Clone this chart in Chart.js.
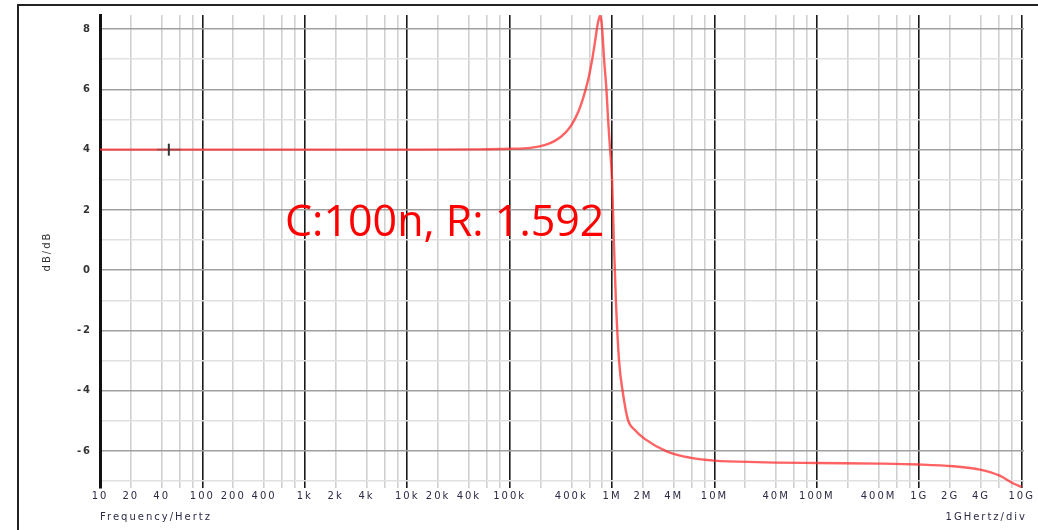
<!DOCTYPE html>
<html>
<head>
<meta charset="utf-8">
<script src="https://cdn.jsdelivr.net/npm/chart.js@4.4.0/dist/chart.umd.min.js"></script>
<style>
  html, body { margin: 0; padding: 0; background: #fff; }
  #wrap { width: 1038px; height: 530px; }
</style>
</head>
<body>
<div id="wrap"><canvas id="myChart" width="1038" height="530"></canvas></div>
<script>
/* Frequency response */

const freqs = [10, 1e3, 1e4, 5e4, 1e5, 1.59e5, 2.23e5, 2.79e5, 3.49e5, 4.08e5, 4.67e5, 5.22e5, 5.85e5,
  6.39e5, 6.83e5, 7.14e5, 7.4e5, 7.64e5, 7.84e5, 8.0e5, 8.36e5, 8.81e5, 9.15e5, 9.57e5, 1.0e6,
  1.04e6, 1.09e6, 1.17e6, 1.28e6, 1.43e6, 1.66e6, 2.08e6, 3.5e6, 5.9e6, 1e7, 2.6e7, 1e8, 4e8,
  1e9, 2.15e9, 3.9e9, 6.1e9, 8.3e9, 1e10];
const gainDb = [4, 4, 4.0, 4.01, 4.03, 4.06, 4.16, 4.3, 4.56, 4.86, 5.25, 5.71, 6.33,
  6.98, 7.6, 8.05, 8.32, 8.45, 8.3, 8.0, 7.0, 6.0, 5.0, 4.0, 3.0,
  1.0, -1.0, -3.0, -4.1, -4.97, -5.3, -5.6, -6.03, -6.23, -6.32, -6.37, -6.4, -6.42,
  -6.45, -6.51, -6.62, -6.82, -7.08, -7.2];

const cursorFreq = [47];
const cursorDb = [4];

const tickFreqs = [10, 20, 40, 100, 200, 400, 1e3, 2e3, 4e3, 1e4, 2e4, 4e4, 1e5, 4e5,
  1e6, 2e6, 4e6, 1e7, 4e7, 1e8, 4e8, 1e9, 2e9, 4e9, 1e10];
const tickLabels = ['10', '20', '40', '100', '200', '400', '1k', '2k', '4k', '10k', '20k', '40k', '100k', '400k',
  '1M', '2M', '4M', '10M', '40M', '100M', '400M', '1G', '2G', '4G', '10G'];

const yTicks = [-7, -6, -5, -4, -3, -2, -1, 0, 1, 2, 3, 4, 5, 6, 7, 8];

// grid lines at 1,2,4,6,8 of every decade
const gridFreqs = [];
for (let k = 1; k < 10; k++) {
  [1, 2, 4, 6, 8].forEach(function(m) { gridFreqs.push(m * Math.pow(10, k)); });
}
gridFreqs.push(1e10);

function isDecade(v) {
  const l = Math.log10(v);
  return Math.abs(l - Math.round(l)) < 1e-9;
}

const textColor = '#2b2b45';

const frame = {
  id: 'frame',
  beforeDraw(chart) {
    chart.ctx.letterSpacing = '2px';
  },
  afterDraw(chart) {
    const c = chart.ctx;
    c.save();
    c.letterSpacing = '0px';
    c.strokeStyle = '#222';
    c.lineWidth = 2;
    c.beginPath();
    c.moveTo(18, 530);
    c.lineTo(18, 5);
    c.lineTo(1038, 5);
    c.stroke();

    c.fillStyle = '#ff0000';
    c.font = '43px "Open Sans"';
    c.textAlign = 'left';
    c.textBaseline = 'alphabetic';
    c.fillText('C:100n, R: 1.592', 285, 236);

    c.letterSpacing = '2px';
    c.font = '10px "DejaVu Sans"';
    c.fillStyle = textColor;
    c.textAlign = 'right';
    c.textBaseline = 'middle';
    c.fillText('1GHertz/div', 1027, 517);
    c.restore();
  }
};

Chart.defaults.font.family = '"DejaVu Sans"';

let ctx = document.getElementById('myChart').getContext('2d');
// eslint-disable-next-line no-unused-vars
let chart = new Chart(ctx, {
  type: 'line',
  data: {
    datasets: [{
      data: cursorFreq.map(function(f, i) { return {x: f, y: cursorDb[i]}; }),
      showLine: false,
      pointStyle: 'line',
      rotation: 90,
      radius: 6,
      borderWidth: 2,
      borderColor: '#333',
      order: 0
    },
    {
      data: cursorFreq.map(function(f, i) { return {x: f, y: cursorDb[i]}; }),
      showLine: false,
      pointStyle: 'line',
      radius: 12,
      borderWidth: 2,
      borderColor: 'rgba(60,60,60,0.35)',
      order: 1
    },
    {
      data: freqs.map(function(f, i) { return {x: f, y: gainDb[i]}; }),
      borderColor: 'rgba(255,45,45,0.75)',
      borderWidth: 2.4,
      pointRadius: 0,
      cubicInterpolationMode: 'monotone',
      order: 2
    }]
  },
  options: {
    responsive: false,
    animation: false,
    devicePixelRatio: 1,
    layout: {
      padding: { top: 15, right: 10, left: 0, bottom: 0 }
    },
    plugins: {
      legend: { display: false },
      tooltip: { enabled: false }
    },
    scales: {
      x: {
        type: 'logarithmic',
        min: 10,
        max: 1.053e10,
        afterBuildTicks: function(scale) {
          scale.ticks = gridFreqs.map(function(v) { return {value: v}; });
        },
        afterFit: function(scale) {
          scale.height = 42;
          scale.paddingLeft = 0;
          scale.paddingRight = 0;
        },
        ticks: {
          autoSkip: false,
          maxRotation: 0,
          minRotation: 0,
          padding: 2,
          color: textColor,
          font: { size: 10 },
          callback: function(value, index) {
            const i = tickFreqs.indexOf(gridFreqs[index]);
            return i >= 0 ? tickLabels[i] : '';
          }
        },
        grid: {
          drawTicks: false,
          lineWidth: 1.6,
          color: function(c) {
            if (!c.tick) return '#d0d0d0';
            return isDecade(c.tick.value) ? '#1a1a1a' : '#d0d0d0';
          }
        },
        border: { display: false },
        title: {
          display: true,
          text: 'Frequency/Hertz',
          align: 'start',
          color: textColor,
          font: { size: 10 },
          padding: { top: 0, bottom: 7 }
        }
      },
      y: {
        type: 'linear',
        min: -7.23,
        max: 8.47,
        afterBuildTicks: function(scale) {
          scale.ticks = yTicks.map(function(v) { return {value: v}; });
        },
        afterFit: function(scale) {
          scale.width = 100;
        },
        ticks: {
          padding: 8,
          color: '#333',
          font: { size: 10, weight: 'bold' },
          callback: function(value) {
            return value % 2 === 0 ? String(value) : '';
          }
        },
        grid: {
          drawTicks: false,
          lineWidth: 1.6,
          color: function(c) {
            if (!c.tick) return '#e0e0e0';
            return c.tick.value % 2 === 0 ? '#a0a0a0' : '#e0e0e0';
          }
        },
        border: { color: '#111', width: 3 },
        title: {
          display: true,
          text: 'dB/dB',
          color: '#333',
          font: { size: 10 },
          padding: { top: 41, bottom: 0 }
        }
      }
    }
  },
  plugins: [frame]
});
</script>
</body>
</html>
